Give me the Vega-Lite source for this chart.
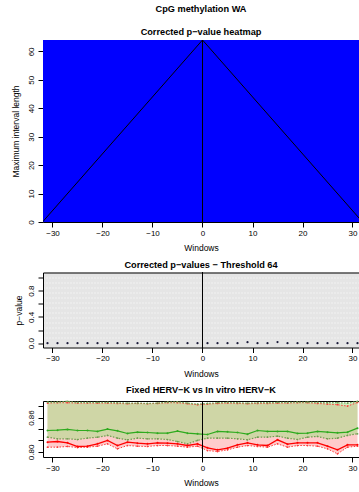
{
  "$schema": "https://vega.github.io/schema/vega-lite/v6.json",
  "padding": {"left": 11, "top": 5, "right": 0, "bottom": 0},
  "spacing": 8.5,
  "config": {
    "font": "Liberation Sans",
    "view": {"stroke": null},
    "axis": {"labelFontSize": 8, "titleFontSize": 8.5, "titleFontWeight": "normal", "labelColor": "black", "titleColor": "black", "tickColor": "black", "domainColor": "black", "tickSize": 5, "grid": false, "labelFont": "Liberation Sans", "titleFont": "Liberation Sans", "zindex": 1, "labelOverlap": false, "tickCount": 100},
    "title": {"fontSize": 9.2, "fontWeight": "bold", "color": "black", "anchor": "middle", "frame": "group", "font": "Liberation Sans"}
  },
  "datasets": {
    "heat": [{"x1": -32, "x2": 32, "y1": 0, "y2": 64}],
    "tri": [{"i": 1, "x": -32, "y": 0}, {"i": 2, "x": 0, "y": 64}, {"i": 3, "x": 32, "y": 0}],
    "pvals": [
      {"w": -31, "p": 0}, {"w": -29, "p": 0}, {"w": -27, "p": 0}, {"w": -25, "p": 0}, {"w": -23, "p": 0}, {"w": -21, "p": 0}, {"w": -19, "p": 0}, {"w": -17, "p": 0},
      {"w": -15, "p": 0}, {"w": -13, "p": 0}, {"w": -11, "p": 0}, {"w": -9, "p": 0}, {"w": -7, "p": 0}, {"w": -5, "p": 0}, {"w": -3, "p": 0}, {"w": -1, "p": 0},
      {"w": 1, "p": 0}, {"w": 3, "p": 0}, {"w": 5, "p": 0}, {"w": 7, "p": 0}, {"w": 9, "p": 0.015}, {"w": 11, "p": 0}, {"w": 13, "p": 0}, {"w": 15, "p": 0.018},
      {"w": 17, "p": 0}, {"w": 19, "p": 0}, {"w": 21, "p": 0}, {"w": 23, "p": 0}, {"w": 25, "p": 0}, {"w": 27, "p": 0}, {"w": 29, "p": 0}, {"w": 31, "p": 0}
    ],
    "herv": [
      {"w": -31, "fixed": 0.8374, "fixed_hi": 0.8871, "fixed_lo": 0.8257, "vitro": 0.8170, "vitro_hi": 0.8854, "vitro_lo": 0.8082},
      {"w": -29, "fixed": 0.8380, "fixed_hi": 0.8871, "fixed_lo": 0.8228, "vitro": 0.8181, "vitro_hi": 0.8860, "vitro_lo": 0.8082},
      {"w": -27, "fixed": 0.8392, "fixed_hi": 0.8885, "fixed_lo": 0.8228, "vitro": 0.8158, "vitro_hi": 0.8860, "vitro_lo": 0.8094},
      {"w": -25, "fixed": 0.8374, "fixed_hi": 0.8865, "fixed_lo": 0.8216, "vitro": 0.8094, "vitro_hi": 0.8854, "vitro_lo": 0.8076},
      {"w": -23, "fixed": 0.8374, "fixed_hi": 0.8865, "fixed_lo": 0.8240, "vitro": 0.8099, "vitro_hi": 0.8854, "vitro_lo": 0.8082},
      {"w": -21, "fixed": 0.8357, "fixed_hi": 0.8865, "fixed_lo": 0.8257, "vitro": 0.8140, "vitro_hi": 0.8854, "vitro_lo": 0.8099},
      {"w": -19, "fixed": 0.8398, "fixed_hi": 0.8865, "fixed_lo": 0.8287, "vitro": 0.8199, "vitro_hi": 0.8854, "vitro_lo": 0.8140},
      {"w": -17, "fixed": 0.8368, "fixed_hi": 0.8860, "fixed_lo": 0.8240, "vitro": 0.8111, "vitro_hi": 0.8848, "vitro_lo": 0.8053},
      {"w": -15, "fixed": 0.8322, "fixed_hi": 0.8854, "fixed_lo": 0.8211, "vitro": 0.8170, "vitro_hi": 0.8842, "vitro_lo": 0.8111},
      {"w": -13, "fixed": 0.8345, "fixed_hi": 0.8854, "fixed_lo": 0.8240, "vitro": 0.8152, "vitro_hi": 0.8848, "vitro_lo": 0.8099},
      {"w": -11, "fixed": 0.8339, "fixed_hi": 0.8848, "fixed_lo": 0.8228, "vitro": 0.8140, "vitro_hi": 0.8842, "vitro_lo": 0.8094},
      {"w": -9, "fixed": 0.8327, "fixed_hi": 0.8854, "fixed_lo": 0.8228, "vitro": 0.8158, "vitro_hi": 0.8848, "vitro_lo": 0.8111},
      {"w": -7, "fixed": 0.8327, "fixed_hi": 0.8871, "fixed_lo": 0.8216, "vitro": 0.8152, "vitro_hi": 0.8860, "vitro_lo": 0.8111},
      {"w": -5, "fixed": 0.8363, "fixed_hi": 0.8877, "fixed_lo": 0.8181, "vitro": 0.8140, "vitro_hi": 0.8860, "vitro_lo": 0.8099},
      {"w": -3, "fixed": 0.8327, "fixed_hi": 0.8854, "fixed_lo": 0.8140, "vitro": 0.8111, "vitro_hi": 0.8842, "vitro_lo": 0.8082},
      {"w": -1, "fixed": 0.8316, "fixed_hi": 0.8836, "fixed_lo": 0.8199, "vitro": 0.8140, "vitro_hi": 0.8825, "vitro_lo": 0.8099},
      {"w": 1, "fixed": 0.8304, "fixed_hi": 0.8848, "fixed_lo": 0.8240, "vitro": 0.8070, "vitro_hi": 0.8836, "vitro_lo": 0.8023},
      {"w": 3, "fixed": 0.8357, "fixed_hi": 0.8860, "fixed_lo": 0.8240, "vitro": 0.8035, "vitro_hi": 0.8848, "vitro_lo": 0.8006},
      {"w": 5, "fixed": 0.8351, "fixed_hi": 0.8865, "fixed_lo": 0.8240, "vitro": 0.8064, "vitro_hi": 0.8854, "vitro_lo": 0.8035},
      {"w": 7, "fixed": 0.8339, "fixed_hi": 0.8860, "fixed_lo": 0.8228, "vitro": 0.8123, "vitro_hi": 0.8848, "vitro_lo": 0.8082},
      {"w": 9, "fixed": 0.8310, "fixed_hi": 0.8854, "fixed_lo": 0.8211, "vitro": 0.8158, "vitro_hi": 0.8842, "vitro_lo": 0.8111},
      {"w": 11, "fixed": 0.8374, "fixed_hi": 0.8860, "fixed_lo": 0.8257, "vitro": 0.8123, "vitro_hi": 0.8848, "vitro_lo": 0.8094},
      {"w": 13, "fixed": 0.8357, "fixed_hi": 0.8860, "fixed_lo": 0.8257, "vitro": 0.8111, "vitro_hi": 0.8848, "vitro_lo": 0.8082},
      {"w": 15, "fixed": 0.8357, "fixed_hi": 0.8865, "fixed_lo": 0.8275, "vitro": 0.8211, "vitro_hi": 0.8854, "vitro_lo": 0.8140},
      {"w": 17, "fixed": 0.8357, "fixed_hi": 0.8865, "fixed_lo": 0.8240, "vitro": 0.8135, "vitro_hi": 0.8854, "vitro_lo": 0.8082},
      {"w": 19, "fixed": 0.8322, "fixed_hi": 0.8871, "fixed_lo": 0.8216, "vitro": 0.8158, "vitro_hi": 0.8860, "vitro_lo": 0.8111},
      {"w": 21, "fixed": 0.8327, "fixed_hi": 0.8871, "fixed_lo": 0.8257, "vitro": 0.8158, "vitro_hi": 0.8860, "vitro_lo": 0.8111},
      {"w": 23, "fixed": 0.8357, "fixed_hi": 0.8865, "fixed_lo": 0.8269, "vitro": 0.8158, "vitro_hi": 0.8848, "vitro_lo": 0.8099},
      {"w": 25, "fixed": 0.8345, "fixed_hi": 0.8860, "fixed_lo": 0.8228, "vitro": 0.8099, "vitro_hi": 0.8836, "vitro_lo": 0.8053},
      {"w": 27, "fixed": 0.8333, "fixed_hi": 0.8860, "fixed_lo": 0.8240, "vitro": 0.8035, "vitro_hi": 0.8825, "vitro_lo": 0.7965},
      {"w": 29, "fixed": 0.8345, "fixed_hi": 0.8854, "fixed_lo": 0.8287, "vitro": 0.8123, "vitro_hi": 0.8801, "vitro_lo": 0.8082},
      {"w": 31, "fixed": 0.8415, "fixed_hi": 0.8883, "fixed_lo": 0.8316, "vitro": 0.8123, "vitro_hi": 0.8865, "vitro_lo": 0.8099}
    ]
  },
  "vconcat": [
    {
      "width": 316,
      "height": 182,
      "title": {"text": "CpG methylation WA", "subtitle": "Corrected p−value heatmap", "subtitleFontSize": 9.2, "subtitleFontWeight": "bold", "subtitleColor": "black", "subtitleFont": "Liberation Sans", "subtitlePadding": 13.5, "offset": 2.5},
      "layer": [
        {
          "data": {"name": "heat"},
          "mark": {"type": "rect", "color": "#0000ff", "clip": true},
          "encoding": {
            "x": {"field": "x1", "type": "quantitative", "scale": {"domain": [-31.9, 31.3], "nice": false, "zero": false},
                  "axis": {"values": [-30, -20, -10, 0, 10, 20, 30], "format": "d", "tickCount": 100, "title": "Windows", "labelPadding": 2, "titlePadding": 6.5, "labelFlush": false, "labelOverlap": false}},
            "x2": {"field": "x2"},
            "y": {"field": "y1", "type": "quantitative", "scale": {"domain": [0, 64], "nice": false},
                  "axis": {"values": [0, 10, 20, 30, 40, 50, 60, 64], "tickCount": 100, "labelAngle": -90, "labelAlign": "center", "labelBaseline": "bottom", "labelPadding": 3, "labelOverlap": false, "labelFlush": false,
                           "title": "Maximum interval length", "titlePadding": 6, "minExtent": 17, "maxExtent": 17,
                           "grid": true, "gridColor": "black",
                           "gridOpacity": {"condition": {"test": "datum.value > 63", "value": 1}, "value": 0},
                           "tickOpacity": {"condition": {"test": "datum.value > 63", "value": 0}, "value": 1},
                           "labelExpr": "datum.value > 63 ? '' : format(datum.value, 'd')"}},
            "y2": {"field": "y2"}
          }
        },
        {
          "data": {"name": "tri"},
          "mark": {"type": "line", "color": "black", "strokeWidth": 1, "clip": true},
          "encoding": {
            "x": {"field": "x", "type": "quantitative", "scale": {"domain": [-31.9, 31.3], "nice": false, "zero": false}},
            "y": {"field": "y", "type": "quantitative", "scale": {"domain": [0, 64], "nice": false}},
            "order": {"field": "i"}
          }
        },
        {
          "data": {"name": "tri"},
          "mark": {"type": "rule", "color": "black", "strokeWidth": 1},
          "encoding": {"x": {"datum": 0, "type": "quantitative"}}
        }
      ]
    },
    {
      "width": 316,
      "height": 75,
      "view": {"fill": "#e5e5e5", "stroke": null},
      "title": {"text": "Corrected p−values − Threshold 64", "offset": 1.5},
      "layer": [
        {
          "data": {"name": "pvals"},
          "mark": {"type": "point", "filled": true, "size": 5, "color": "#1a1a3a", "opacity": 1},
          "encoding": {
            "x": {"field": "w", "type": "quantitative", "scale": {"domain": [-31.9, 31.3], "nice": false, "zero": false},
                  "axis": {"values": [-30, -20, -10, 0, 10, 20, 30], "format": "d", "tickCount": 100, "title": "Windows", "labelPadding": 2, "titlePadding": 6.5, "labelFlush": false, "labelOverlap": false}},
            "y": {"field": "p", "type": "quantitative", "scale": {"domain": [-0.065, 1.075], "nice": false, "zero": false},
                  "axis": {"values": [0, 0.086, 0.162, 0.2, 0.238, 0.314, 0.39, 0.4, 0.466, 0.542, 0.6, 0.618, 0.694, 0.77, 0.8, 0.846, 0.922, 0.998, 1.0, 1.075], "tickCount": 100,
                           "labelAngle": -90, "labelAlign": "center", "labelBaseline": "bottom", "labelPadding": 3, "labelOverlap": false, "labelFlush": false,
                           "title": "p−value", "titlePadding": 3, "minExtent": 17, "maxExtent": 17,
                           "grid": true,
                           "gridColor": {"condition": {"test": "datum.value > 1.07", "value": "black"}, "value": "white"},
                           "gridDash": {"condition": {"test": "datum.value > 1.07", "value": []}, "value": [1, 2]},
                           "gridOpacity": {"condition": {"test": "datum.value > 1.07 || (round(datum.value*1000) % 200 != 0)", "value": 1}, "value": 0},
                           "tickOpacity": {"condition": {"test": "datum.value < 1.01 && round(datum.value*1000) % 200 == 0", "value": 1}, "value": 0},
                           "labelExpr": "(datum.value < 0.01 || abs(datum.value-0.4) < 0.001 || abs(datum.value-0.8) < 0.001) ? format(datum.value, '.1f') : ''"}}
          }
        },
        {
          "data": {"name": "pvals"},
          "mark": {"type": "rule", "color": "black", "strokeWidth": 1},
          "encoding": {"x": {"datum": 0, "type": "quantitative"}}
        }
      ]
    },
    {
      "width": 316,
      "height": 56,
      "title": {"text": "Fixed HERV−K vs In vitro HERV−K", "offset": 3.5},
      "data": {"name": "herv"},
      "encoding": {
        "x": {"field": "w", "type": "quantitative", "scale": {"domain": [-31.9, 31.3], "nice": false, "zero": false},
              "axis": {"values": [-30, -20, -10, 0, 10, 20, 30], "format": "d", "tickCount": 100, "title": "Windows", "labelPadding": 2, "titlePadding": 6.5, "labelFlush": false, "labelOverlap": false}}
      },
      "layer": [
        {
          "mark": {"type": "area", "color": "#ffcccc", "opacity": 1},
          "encoding": {
            "y": {"field": "vitro_lo", "type": "quantitative", "scale": {"domain": [0.791, 0.889], "nice": false, "zero": false},
                  "axis": {"values": [0.8, 0.82, 0.84, 0.86, 0.88, 0.889], "tickCount": 100, "labelAngle": -90, "labelAlign": "center", "labelBaseline": "bottom", "labelPadding": 3, "labelOverlap": false, "labelFlush": false,
                           "title": null, "minExtent": 17, "maxExtent": 17,
                           "grid": true, "gridColor": "black",
                           "gridOpacity": {"condition": {"test": "datum.value > 0.885", "value": 1}, "value": 0},
                           "tickOpacity": {"condition": {"test": "datum.value > 0.885", "value": 0}, "value": 1},
                           "labelExpr": "(abs(datum.value-0.8) < 0.001 || abs(datum.value-0.86) < 0.001) ? format(datum.value, '.2f') : ''"}},
            "y2": {"field": "vitro_hi"}
          }
        },
        {
          "mark": {"type": "area", "color": "#a0e080", "opacity": 0.5},
          "encoding": {"y": {"field": "fixed_lo", "type": "quantitative"}, "y2": {"field": "fixed_hi"}}
        },
        {
          "mark": {"type": "line", "color": "#ff3a3a", "strokeWidth": 1, "strokeDash": [1.5, 1.5], "point": {"filled": true, "size": 3, "color": "#ff3a3a"}},
          "encoding": {"y": {"field": "vitro_lo", "type": "quantitative"}}
        },
        {
          "mark": {"type": "line", "color": "#ff3a3a", "strokeWidth": 1, "strokeDash": [1.5, 1.5], "point": {"filled": true, "size": 3, "color": "#ff3a3a"}},
          "encoding": {"y": {"field": "vitro_hi", "type": "quantitative"}}
        },
        {
          "mark": {"type": "line", "color": "#6f9f50", "strokeWidth": 1.2, "strokeDash": [1.5, 1.5], "point": {"filled": true, "size": 3, "color": "#6f9f50"}},
          "encoding": {"y": {"field": "fixed_lo", "type": "quantitative"}}
        },
        {
          "mark": {"type": "line", "color": "#6f9f50", "strokeWidth": 1.2, "strokeDash": [1.5, 1.5], "point": {"filled": true, "size": 3, "color": "#6f9f50"}},
          "encoding": {"y": {"field": "fixed_hi", "type": "quantitative"}}
        },
        {
          "mark": {"type": "line", "color": "#ff0000", "strokeWidth": 1.3, "point": {"filled": true, "size": 4, "color": "#ff0000"}},
          "encoding": {"y": {"field": "vitro", "type": "quantitative"}}
        },
        {
          "mark": {"type": "line", "color": "#2eaa1e", "strokeWidth": 1.2, "point": {"filled": true, "size": 4, "color": "#2eaa1e"}},
          "encoding": {"y": {"field": "fixed", "type": "quantitative"}}
        },
        {
          "mark": {"type": "rule", "color": "black", "strokeWidth": 1},
          "encoding": {"x": {"datum": 0, "type": "quantitative"}}
        }
      ]
    }
  ]
}
